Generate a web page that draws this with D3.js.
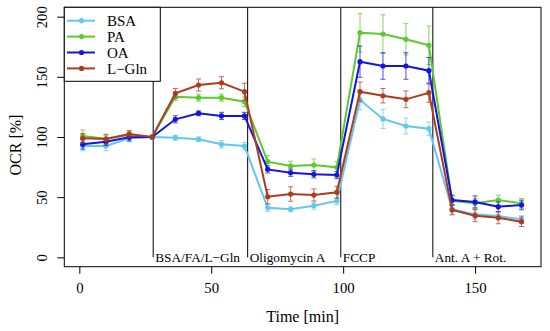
<!DOCTYPE html>
<html>
<head>
<meta charset="utf-8">
<script src="https://cdn.jsdelivr.net/npm/d3@7"></script>
<style>
  body { margin: 0; background: #fff; }
  text { font-family: "Liberation Serif", "Times New Roman", serif; fill: #000; }
</style>
</head>
<body>
<svg width="550" height="331"></svg>
<script>
// measurement times [min]
const times = [1.3, 10.1, 18.9, 27.6, 36.4, 45.2, 53.9, 62.6, 71.4, 80.1, 88.9, 97.6,
               106.4, 115.1, 123.8, 132.5, 141.3, 150.0, 158.8, 167.6];

const seriesNames = ['BSA', 'PA', 'OA', 'L\u2212Gln'];
const seriesColors = ['#62c8ef', '#5cc92c', '#1414e0', '#b03a1e'];

const bsa = [92.5, 92.5, 99, 100, 99.4, 98.1, 93.9, 92.5, 41.2, 39.9, 42.9, 46.8,
             130.8, 115, 109.1, 106.9, 40, 35.7, 34.3, 31.6];
const bsaErr = [4, 4, 3, 0, 2, 2, 3, 3, 3, 2, 3, 3, 8, 8, 6.5, 5.5, 4, 4, 3, 3];

const pa = [100.8, 98.5, 101.7, 100, 133.5, 132.7, 132.7, 129.3, 79.5, 75.9, 76.7, 74.8,
            186.7, 185.6, 181.2, 176.2, 47, 44.9, 47.6, 44.9];
const paErr = [5, 3, 3, 0, 3, 3, 3, 4, 5, 4, 5, 5, 16, 16, 13, 16, 4, 4, 4, 4];

const oa = [93.9, 96, 99.7, 100, 114.7, 119.7, 117.5, 117.5, 73.1, 70.3, 69, 68.4,
            162.6, 159, 159, 155.1, 47.6, 46, 42, 43.5];
const oaErr = [4, 3, 3, 0, 3, 2, 3, 3, 3, 3, 3, 3, 13, 11, 11, 11, 4, 5, 4, 4];

const gln = [98.9, 98.3, 102.5, 100, 136.3, 143.2, 145.1, 137.7, 50.4, 52.6, 51.8, 54,
             137.7, 134.3, 131.3, 136.8, 39.3, 34.6, 32.9, 29.6];
const glnErr = [4, 4, 3, 0, 4, 5, 5, 7, 6, 6, 5, 5, 8, 6, 7, 8, 4, 5, 5, 4];

// injections
const injTimes = [28.0, 63.8, 99.1, 134.0];
const injLabels = ['BSA/FA/L\u2212Gln', 'Oligomycin A', 'FCCP', 'Ant. A + Rot.'];

const xTicks = [0, 50, 100, 150];
const yTicks = [0, 50, 100, 150, 200];

const series = [
  { name: seriesNames[0], color: seriesColors[0], vals: bsa, err: bsaErr },
  { name: seriesNames[1], color: seriesColors[1], vals: pa, err: paErr },
  { name: seriesNames[2], color: seriesColors[2], vals: oa, err: oaErr },
  { name: seriesNames[3], color: seriesColors[3], vals: gln, err: glnErr }
];

const svg = d3.select('svg');
const plotL = 64.3, plotR = 541, plotT = 7.3, plotB = 266.7;

const x = d3.scaleLinear().domain([-5.7, 175]).range([plotL, plotR]);
const y = d3.scaleLinear().domain([-7.8, 207.8]).range([plotB, plotT]);

// injection lines + labels
const inj = svg.append('g');
injTimes.forEach((t, i) => {
  inj.append('line')
     .attr('x1', x(t)).attr('x2', x(t))
     .attr('y1', y(0)).attr('y2', plotT)
     .attr('stroke', '#000').attr('stroke-width', 1);
  inj.append('text')
     .attr('x', x(t) + 2).attr('y', y(0))
     .attr('dy', '0.35em')
     .attr('font-size', 13.3)
     .text(injLabels[i]);
});

// series
const line = d3.line().x((d, i) => x(times[i])).y(d => y(d));
series.forEach(s => {
  const g = svg.append('g');
  g.append('path')
   .datum(s.vals)
   .attr('d', line)
   .attr('fill', 'none')
   .attr('stroke', s.color)
   .attr('stroke-width', 2);

  s.vals.forEach((v, i) => {
    if (s.err[i] <= 0) return;
    const cx = x(times[i]);
    const eg = g.append('g').attr('stroke', s.color).attr('stroke-width', 1).attr('opacity', 0.75);
    eg.append('line').attr('x1', cx).attr('x2', cx).attr('y1', y(v - s.err[i])).attr('y2', y(v + s.err[i]));
    eg.append('line').attr('x1', cx - 2.5).attr('x2', cx + 2.5).attr('y1', y(v - s.err[i])).attr('y2', y(v - s.err[i]));
    eg.append('line').attr('x1', cx - 2.5).attr('x2', cx + 2.5).attr('y1', y(v + s.err[i])).attr('y2', y(v + s.err[i]));
  });

  g.selectAll('circle').data(s.vals).enter().append('circle')
   .attr('cx', (d, i) => x(times[i]))
   .attr('cy', d => y(d))
   .attr('r', 2.6)
   .attr('fill', s.color);
});

// axes
const xAxis = svg.append('g')
  .attr('transform', `translate(0,${plotB})`)
  .call(d3.axisBottom(x).tickValues(xTicks).tickSize(7).tickPadding(9).tickSizeOuter(0));
const yAxis = svg.append('g')
  .attr('transform', `translate(${plotL},0)`)
  .call(d3.axisLeft(y).tickValues(yTicks).tickSize(7).tickSizeOuter(0));
[xAxis, yAxis].forEach(a => {
  a.select('.domain').remove();
  a.selectAll('.tick line').attr('stroke', '#000');
  a.selectAll('text').attr('font-family', '"Liberation Serif", serif').attr('font-size', 14.8).attr('fill', '#000');
});
yAxis.selectAll('.tick text')
  .attr('x', 0).attr('dy', 0)
  .attr('text-anchor', 'middle')
  .attr('transform', 'translate(-17,0) rotate(-90)');

// box
svg.append('rect')
   .attr('x', plotL).attr('y', plotT)
   .attr('width', plotR - plotL).attr('height', plotB - plotT)
   .attr('fill', 'none').attr('stroke', '#000').attr('stroke-width', 1);

// axis titles
svg.append('text')
   .attr('x', (plotL + plotR) / 2).attr('y', 322)
   .attr('text-anchor', 'middle').attr('font-size', 16)
   .text('Time [min]');
svg.append('text')
   .attr('transform', `translate(21,${(plotT + plotB) / 2 + 8}) rotate(-90)`)
   .attr('text-anchor', 'middle').attr('font-size', 16)
   .text('OCR [%]');

// legend
const lg = svg.append('g');
lg.append('rect')
  .attr('x', plotL).attr('y', plotT).attr('width', 96).attr('height', 74)
  .attr('fill', '#fff').attr('stroke', '#000').attr('stroke-width', 1);
series.forEach((s, i) => {
  const ly = 20.7 + i * 15.9;
  lg.append('line').attr('x1', 67).attr('x2', 95).attr('y1', ly).attr('y2', ly)
    .attr('stroke', s.color).attr('stroke-width', 2);
  lg.append('circle').attr('cx', 81.5).attr('cy', ly).attr('r', 2.6).attr('fill', s.color);
  lg.append('text').attr('x', 107).attr('y', ly).attr('dy', '0.35em')
    .attr('font-size', 15).text(s.name);
});
</script>
</body>
</html>
